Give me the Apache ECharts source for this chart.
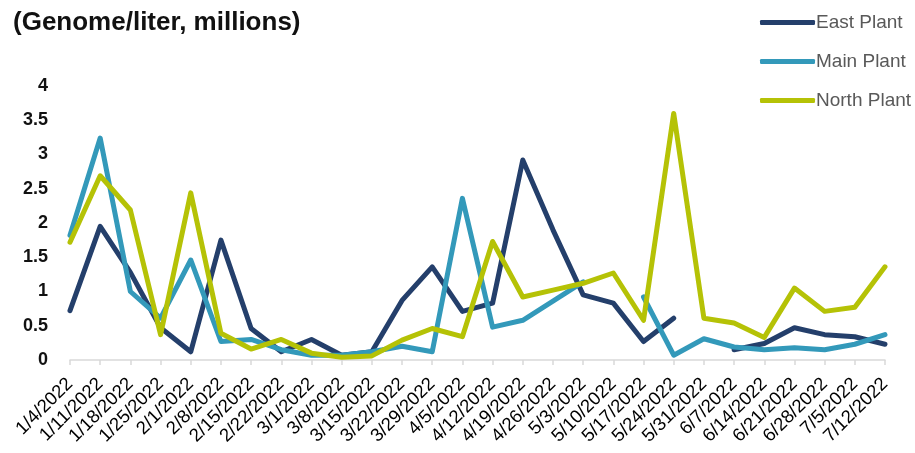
<!DOCTYPE html>
<html>
<head>
<meta charset="utf-8">
<script src="https://cdn.jsdelivr.net/npm/echarts@6/dist/echarts.min.js"></script>
<style>
html,body{margin:0;padding:0;background:#fff;}
#chart{width:915px;height:453px;}
</style>
</head>
<body>
<div id="chart"></div>
<script>
const dates = ["1/4/2022","1/11/2022","1/18/2022","1/25/2022","2/1/2022","2/8/2022","2/15/2022","2/22/2022","3/1/2022","3/8/2022","3/15/2022","3/22/2022","3/29/2022","4/5/2022","4/12/2022","4/19/2022","4/26/2022","5/3/2022","5/10/2022","5/17/2022","5/24/2022","5/31/2022","6/7/2022","6/14/2022","6/21/2022","6/28/2022","7/5/2022","7/12/2022"];
const eastPlant = [0.72,1.95,1.28,0.47,0.12,1.75,0.46,0.12,0.3,0.07,0.12,0.87,1.36,0.71,0.83,2.92,1.9,0.95,0.83,0.27,0.61,null,0.15,0.24,0.47,0.37,0.34,0.23];
const mainPlant = [1.82,3.24,1.0,0.61,1.46,0.27,0.3,0.15,0.07,0.07,0.12,0.2,0.12,2.36,0.48,0.58,0.86,1.14,null,0.92,0.07,0.31,0.19,0.15,0.18,0.15,0.23,0.37];
const northPlant = [1.72,2.69,2.19,0.37,2.44,0.39,0.16,0.3,0.1,0.04,0.06,0.29,0.46,0.34,1.73,0.92,1.02,1.12,1.27,0.58,3.6,0.61,0.54,0.33,1.05,0.71,0.77,1.36];
const seriesNames = ["East Plant","Main Plant","North Plant"];
const colors = ["#243f6b","#3399ba","#b5c206"];
const subtitle = "(Genome/liter, millions)";

const chart = echarts.init(document.getElementById('chart'));
const mk = (name, data, color) => ({
  name, type:'line', data, symbol:'none', connectNulls:false,
  lineStyle:{width:5, color, cap:'round', join:'round'},
  itemStyle:{color}
});
chart.setOption({
  animation:false,
  title:{text:subtitle, left:8, top:5,
    textStyle:{fontFamily:'Liberation Sans, Arial, sans-serif', fontSize:26, fontWeight:'bold', color:'#111'}},
  legend:{orient:'vertical', left:755, top:8, itemWidth:55, itemHeight:5, itemGap:20,
    icon:'roundRect',
    textStyle:{fontFamily:'Liberation Sans, Arial, sans-serif', fontSize:19, color:'#595959', padding:[0,0,0,-4]},
    data:seriesNames},
  grid:{left:70, right:30, top:86, bottom:93},
  xAxis:{type:'category', data:dates, boundaryGap:false,
    axisLine:{lineStyle:{color:'#d9d9d9', width:1.5}},
    axisTick:{show:true, length:5, lineStyle:{color:'#d9d9d9', width:1.5}},
    axisLabel:{rotate:45, interval:0, margin:21, fontFamily:'Liberation Sans, Arial, sans-serif', fontSize:18.5, color:'#000'}},
  yAxis:{type:'value', min:0, max:4, interval:0.5,
    axisLine:{show:false}, axisTick:{show:false}, splitLine:{show:false},
    axisLabel:{margin:22, fontFamily:'Liberation Sans, Arial, sans-serif', fontSize:18, fontWeight:'bold', color:'#111'}},
  series:[mk(seriesNames[0],eastPlant,colors[0]), mk(seriesNames[1],mainPlant,colors[1]), mk(seriesNames[2],northPlant,colors[2])]
});
</script>
</body>
</html>
